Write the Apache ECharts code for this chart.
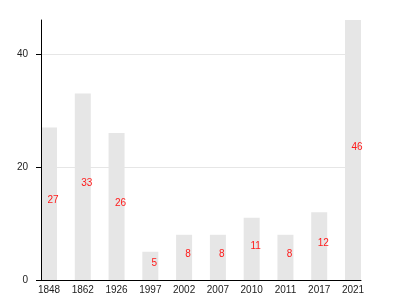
<!DOCTYPE html>
<html>
<head>
<meta charset="utf-8">
<script src="https://cdn.jsdelivr.net/npm/echarts@6/dist/echarts.min.js"></script>
<style>html,body{margin:0;padding:0;background:#fff}#c{width:400px;height:300px}</style>
</head>
<body>
<div id="c"></div>
<script>
const categories = ['1848', '1862', '1926', '1997', '2002', '2007', '2010', '2011', '2017', '2021'];
const values = [27, 33, 26, 5, 8, 8, 11, 8, 12, 46];
const yTicks = [0, 20, 40];

const chart = echarts.init(document.getElementById('c'), null, {renderer: 'canvas'});
const pad = 8 / (304 / 9);
chart.setOption({
  animation: false,
  grid: {left: 41, right: 39, top: 20, bottom: 20, containLabel: false},
  xAxis: {
    type: 'value',
    z: 5,
    min: -pad,
    max: categories.length - 1 + pad,
    splitLine: {show: false},
    axisTick: {show: false},
    axisLine: {show: true, onZero: false, lineStyle: {color: '#000', width: 1}},
    axisLabel: {
      customValues: categories.map((c, i) => i),
      formatter: v => categories[Math.round(v)],
      color: '#222', fontSize: 10, fontFamily: 'Liberation Sans', margin: 5
    }
  },
  yAxis: {
    type: 'value',
    z: 5,
    min: 0,
    max: 46,
    interval: 20,
    axisLine: {show: true, onZero: false, lineStyle: {color: '#000', width: 1}},
    axisTick: {show: true, length: 5, lineStyle: {color: '#000'}, customValues: yTicks},
    axisLabel: {customValues: yTicks, color: '#222', fontSize: 10, fontFamily: 'Liberation Sans', margin: 13},
    splitLine: {show: true, lineStyle: {color: '#e6e6e6', width: 1}, showMinLine: false}
  },
  series: [{
    type: 'bar',
    z: 2,
    data: values.map((v, i) => [i, v]),
    barWidth: 16,
    itemStyle: {color: '#e6e6e6'},
    label: {
      show: true,
      position: 'inside',
      offset: [4, -3],
      color: '#ff1a1a',
      fontSize: 10,
      fontFamily: 'Liberation Sans',
      formatter: p => p.value[1]
    }
  }]
});
</script>
</body>
</html>
